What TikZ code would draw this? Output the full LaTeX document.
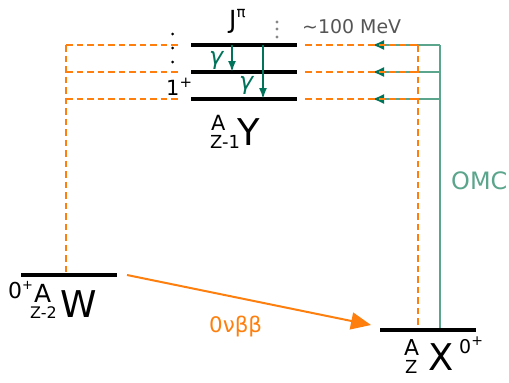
\documentclass[tikz,border=0pt]{standalone}
\usepackage{fontspec}
\setmainfont{DejaVu Sans}
\usetikzlibrary{arrows.meta}
\definecolor{omcgreen}{RGB}{91,165,140}
\definecolor{gammagreen}{RGB}{0,115,90}
\definecolor{dbborange}{RGB}{255,127,14}
\definecolor{dotgray}{RGB}{135,135,135}
\definecolor{textgray}{RGB}{85,85,85}
\newcommand{\fs}[1]{\fontsize{#1}{#1}\selectfont}
\newcommand{\upmark}[3]{\raisebox{#1}{\fs{#2}#3}}

\begin{document}
\begin{tikzpicture}[x=1bp,y=-1bp,
  level/.style={line width=3.2bp},
  feed/.style={dbborange,line width=2.2bp,dash pattern=on 6.5bp off 4bp},
  omcline/.style={omcgreen,line width=2bp},
  omcarrow/.style={omcline,-{Latex[length=12bp,width=10bp,color=gammagreen]}},
  gam/.style={gammagreen,line width=1.8bp,-{Latex[length=11bp,width=8bp]}},
  lbl/.style={inner sep=0pt,anchor=base west}]
 \useasboundingbox (0,0) rectangle (509,382);
 \coordinate (Wl) at (21,275); \coordinate (Wr) at (117,275);
 \coordinate (Xl) at (380,330); \coordinate (Xr) at (476,330);
 \coordinate (Ws) at (127,275); \coordinate (Xt) at (371,325);
 \coordinate (omcbot) at (440,328); \coordinate (feedbot) at (418,328);
 \foreach \i/\y in {1/45,2/72,3/99} {
   \coordinate (Y\i l) at (191,\y); \coordinate (Y\i r) at (297,\y);
   \coordinate (L\i) at (66,\y); \coordinate (La\i) at (180,\y);
   \coordinate (R\i) at (305,\y); \coordinate (Ra\i) at (418,\y);
   \coordinate (O\i) at (440,\y); \coordinate (Oa\i) at (372,\y);
 }
 \draw[omcline] (O1) -- (omcbot);
 \foreach \i in {1,2,3} \draw[omcarrow] (O\i) -- (Oa\i);
 \foreach \i in {1,2,3} {
   \draw[feed] (L\i) -- (La\i);
   \draw[feed] (R\i) -- (Ra\i);
 }
 \draw[feed] (L1) -- (L1 |- Wl);
 \draw[feed] (Ra1) -- (feedbot);
 \foreach \i in {1,2,3} \draw[level] (Y\i l) -- (Y\i r);
 \draw[level] (Wl) -- (Wr);
 \draw[level] (Xl) -- (Xr);
 \draw[dbborange,line width=2bp,-{Triangle[length=20bp,width=17bp]}] (Ws) -- (Xt);
 \draw[gam] (Y1l -| 232,0) -- (Y2l -| 232,0);
 \draw[gam] (Y1l -| 263,0) -- (Y3l -| 263,0);
 \foreach \y in {34,48,62} \fill (172.7,\y) circle (1.5bp);
 \foreach \y in {22,29,37} \fill[dotgray] (277,\y) circle (1.6bp);
 \node[lbl,font=\fs{25}] (Jpi) at (229,28) {J\upmark{11bp}{15}{π}};
 \node[lbl,font=\fs{19},text=textgray] (mev) at (302,33) {\textasciitilde100 MeV};
 \node[lbl,font=\fs{21}] (spin1) at (166,95) {1\upmark{7.5bp}{15}{+}};
 \node[lbl,font=\fs{24}\itshape,text=gammagreen] (g1) at (209,64) {γ};
 \node[lbl,font=\fs{24}\itshape,text=gammagreen] (g2) at (239,89) {γ};
 \node[lbl,font=\fs{21}] (YA) at (211,130) {A};
 \node[lbl,font=\fs{18}] (YZ) at (210,148) {Z-1};
 \node[lbl,font=\fs{37}] (Yname) at (237,145) {Y};
 \node[lbl,font=\fs{22}] (W0) at (8,298) {0\upmark{9bp}{13}{+}};
 \node[lbl,font=\fs{25}] (WA) at (34,302) {A};
 \node[lbl,font=\fs{16}] (WZ) at (30,318) {Z-2};
 \node[lbl,font=\fs{37}] (Wname) at (60,317) {W};
 \node[lbl,font=\fs{22}] (XA) at (404,355) {A};
 \node[lbl,font=\fs{18}] (XZ) at (405,373) {Z};
 \node[lbl,font=\fs{37}] (Xname) at (428,370) {X};
 \node[lbl,font=\fs{19}] (X0) at (459,353) {0\upmark{7.5bp}{14}{+}};
 \node[lbl,font=\fs{24},text=omcgreen] (omclab) at (451,189) {OMC};
 \node[lbl,font=\fs{21.5},text=dbborange] (dbblab) at (209,332) {0νββ};
\end{tikzpicture}
\end{document}
